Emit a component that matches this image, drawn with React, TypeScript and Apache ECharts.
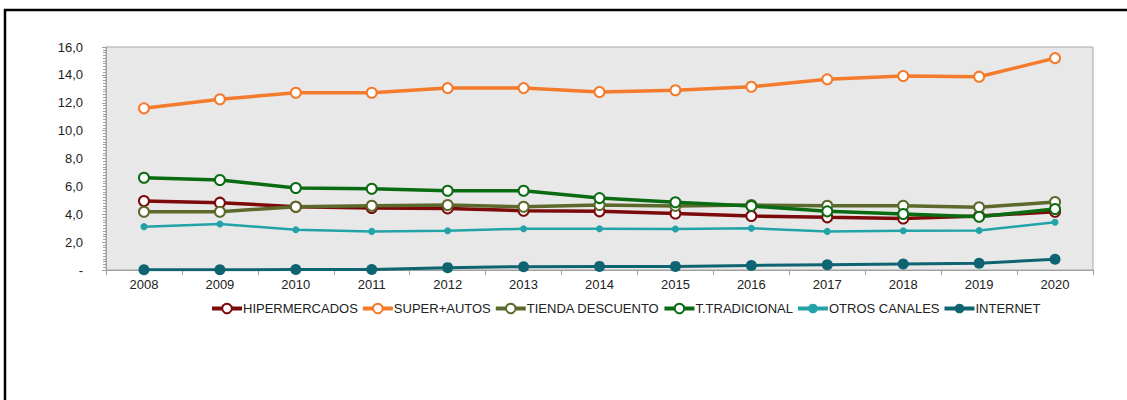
import React, { useEffect, useRef } from "react";
import * as echarts from "echarts";

const years = ["2008", "2009", "2010", "2011", "2012", "2013", "2014", "2015", "2016", "2017", "2018", "2019", "2020"];
const hipermercados = [4.95, 4.83, 4.54, 4.45, 4.42, 4.25, 4.21, 4.05, 3.87, 3.78, 3.7, 3.88, 4.18];
const superAutos = [11.6, 12.25, 12.72, 12.72, 13.05, 13.05, 12.77, 12.9, 13.15, 13.68, 13.92, 13.87, 15.2];
const tiendaDescuento = [4.18, 4.18, 4.54, 4.61, 4.66, 4.54, 4.66, 4.6, 4.66, 4.61, 4.61, 4.5, 4.88];
const tTradicional = [6.62, 6.46, 5.88, 5.83, 5.69, 5.69, 5.16, 4.86, 4.59, 4.21, 4.02, 3.82, 4.38];
const otrosCanales = [3.11, 3.3, 2.89, 2.77, 2.82, 2.96, 2.96, 2.94, 2.99, 2.77, 2.82, 2.84, 3.42];
const internet = [0.02, 0.02, 0.03, 0.04, 0.17, 0.24, 0.26, 0.26, 0.33, 0.38, 0.43, 0.48, 0.77];

const FONT = "'Liberation Sans', Arial, sans-serif";

function hollow(name: string, data: number[], color: string) {
  return {
    name,
    type: "line",
    data,
    symbol: "emptyCircle",
    symbolSize: 10,
    lineStyle: { color, width: 3.5 },
    itemStyle: { color, borderColor: color, borderWidth: 2.5 },
  };
}

export default function App() {
  const ref = useRef<HTMLDivElement>(null);
  useEffect(() => {
    if (!ref.current) return;
    const chart = echarts.init(ref.current, undefined, { renderer: "svg" });
    chart.setOption({
      animation: false,
      backgroundColor: "#ffffff",
      textStyle: { fontFamily: FONT },
      grid: {
        left: 106,
        top: 47,
        right: 34,
        bottom: 130,
        show: true,
        backgroundColor: "#e8e8e8",
        borderColor: "#a8a8a8",
        borderWidth: 1,
      },
      graphic: [
        { type: "line", shape: { x1: 4, y1: 10, x2: 1127, y2: 10 }, style: { stroke: "#000", lineWidth: 2.5 } },
        { type: "line", shape: { x1: 5, y1: 9, x2: 5, y2: 400 }, style: { stroke: "#000", lineWidth: 2.5 } },
      ],
      legend: {
        left: 205,
        top: 297,
        itemWidth: 30,
        itemHeight: 12,
        itemGap: 3,
        lineStyle: { width: 4 },
        textStyle: { fontSize: 13, color: "#222", fontFamily: FONT, padding: [0, 0, 0, -4] },
        data: ["HIPERMERCADOS", "SUPER+AUTOS", "TIENDA DESCUENTO", "T.TRADICIONAL", "OTROS CANALES", "INTERNET"],
      },
      xAxis: {
        type: "category",
        data: years,
        boundaryGap: true,
        axisLine: { lineStyle: { color: "#a0a0a0", width: 1 } },
        axisTick: { show: true, length: 5, lineStyle: { color: "#a0a0a0" } },
        axisLabel: { color: "#222", fontSize: 13, margin: 8, fontFamily: FONT },
        splitLine: { show: false },
      },
      yAxis: {
        type: "value",
        min: 0,
        max: 16,
        interval: 2,
        axisLine: { show: true, lineStyle: { color: "#a0a0a0", width: 1 } },
        axisTick: { show: true, length: 4, lineStyle: { color: "#a0a0a0" } },
        minorTick: { show: true, splitNumber: 10, length: 3, lineStyle: { color: "#a0a0a0" } },
        splitLine: { show: false },
        axisLabel: {
          color: "#222",
          fontSize: 13,
          margin: 23,
          fontFamily: FONT,
          formatter: (v: number) => (v === 0 ? "-" : v.toFixed(1).replace(".", ",")),
        },
      },
      series: [
        hollow("HIPERMERCADOS", hipermercados, "#7d0a0a"),
        hollow("SUPER+AUTOS", superAutos, "#f47a2c"),
        hollow("TIENDA DESCUENTO", tiendaDescuento, "#5b6a2c"),
        hollow("T.TRADICIONAL", tTradicional, "#0b6b12"),
        {
          name: "OTROS CANALES",
          type: "line",
          data: otrosCanales,
          symbol: "circle",
          symbolSize: 7,
          lineStyle: { color: "#22a3a8", width: 2.5 },
          itemStyle: { color: "#22a3a8" },
        },
        {
          name: "INTERNET",
          type: "line",
          data: internet,
          symbol: "circle",
          symbolSize: 11,
          lineStyle: { color: "#0e6470", width: 3 },
          itemStyle: { color: "#0e6470" },
        },
      ],
    });
    return () => chart.dispose();
  }, []);
  return <div ref={ref} style={{ position: "absolute", left: 0, top: 0, width: 1127, height: 400 }} />;
}
